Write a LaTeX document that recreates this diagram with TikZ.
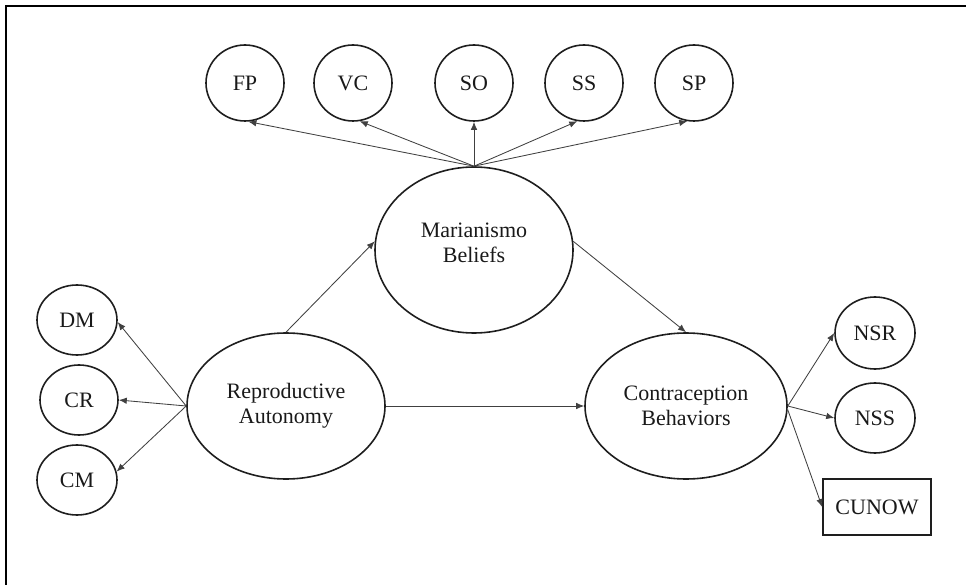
\documentclass[tikz,border=0pt]{standalone}
\usepackage{fontspec}
\setmainfont{Liberation Serif}
\usetikzlibrary{shapes.geometric,arrows.meta}
\definecolor{edge}{HTML}{1E1E1E}
\definecolor{link}{HTML}{404040}
\begin{document}
\begin{tikzpicture}[x=1pt,y=-1pt,
  every node/.style={font=\fontsize{22}{25}\selectfont, text=black!90},
  latent/.style={ellipse, draw=edge, line width=1.6pt, inner sep=0pt, align=center},
  small/.style={latent, minimum width=78pt, minimum height=76pt},
  big/.style={latent, minimum width=198pt, minimum height=146pt},
  observed/.style={rectangle, draw=edge, line width=1.6pt, minimum width=108pt, minimum height=56pt, inner sep=0pt},
  caption/.style={align=center, inner sep=0pt},
  path/.style={draw=link, line width=0.85pt, -{Latex[length=8pt,width=6.5pt]}}]
\useasboundingbox (0,0) rectangle (966,585);
% page frame: top and left rules
\draw[line width=2.6pt, line cap=rect] (966,6) -- (6,6) -- (6,585);

% constructs
\node[big, minimum height=166pt] (MB) at (474,250) {};
\node[caption] (MBtext) at (474,243) {Marianismo\\Beliefs};
\node[big] (RA) at (286,406) {Reproductive\\Autonomy};
\node[big, minimum width=202pt] (CB) at (686,406) {Contraception\\Behaviors};

% marianismo indicators
\node[small] (FP) at (245,83) {FP};
\node[small] (VC) at (353,83) {VC};
\node[small] (SO) at (474,83) {SO};
\node[small] (SS) at (584,83) {SS};
\node[small] (SP) at (694,83) {SP};

% autonomy indicators
\node[small, minimum width=80pt, minimum height=70pt] (DM) at (77,320) {DM};
\node[small, minimum width=78pt, minimum height=70pt] (CR) at (79,400) {CR};
\node[small, minimum width=80pt, minimum height=70pt] (CM) at (77,480) {CM};

% contraception indicators
\node[small, minimum width=80pt, minimum height=72pt] (NSR) at (875,333) {NSR};
\node[small, minimum width=80pt, minimum height=70pt] (NSS) at (875,418) {NSS};
\node[observed] (CUNOW) at (877,507) {CUNOW};

% measurement paths
\draw[path] (MB.north) -- (FP.-85);
\draw[path] (MB.north) -- (VC.-80);
\draw[path] (MB.north) -- (SO.south);
\draw[path] (MB.north) -- (SS.-100);
\draw[path] (MB.north) -- (SP.-100);

\draw[path] (RA.west) -- (DM.-3);
\draw[path] (RA.west) -- (CR.east);
\draw[path] (RA.west) -- (CM.12);

\draw[path] (CB.east) -- (NSR.west);
\draw[path] (CB.east) -- (NSS.west);
\draw[path] (CB.-2) -- (CUNOW.west);

% structural paths
\draw[path] (RA.north) -- (MB.175);
\draw[path] (MB.5) -- (CB.north);
\draw[path] (RA.east) -- (CB.west);
\end{tikzpicture}
\end{document}
